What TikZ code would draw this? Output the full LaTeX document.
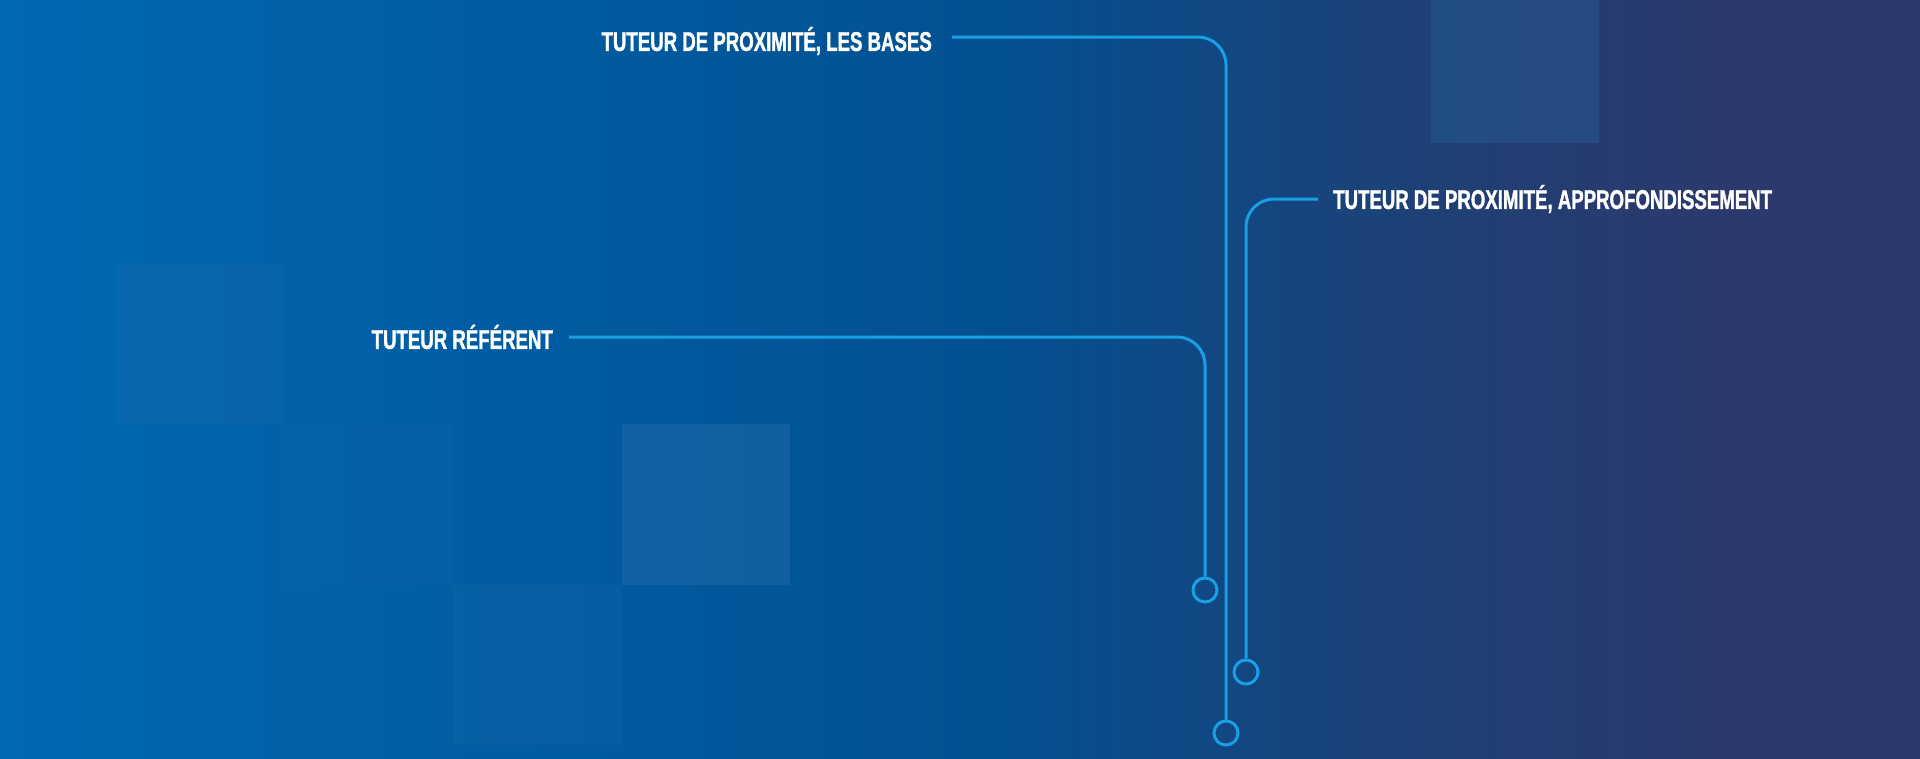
\documentclass[tikz,border=0pt]{standalone}
\usepackage{fontspec}
\newfontfamily\labelfont[FakeStretch=0.69,FakeBold=1.3]{Liberation Sans}
\usetikzlibrary{positioning}
\definecolor{bgleft}{RGB}{0,105,180}
\definecolor{bgmid}{RGB}{3,80,144}
\definecolor{bgmr}{RGB}{30,64,118}
\definecolor{bgright}{RGB}{44,57,108}
\definecolor{linecol}{RGB}{24,160,226}
\definecolor{tilecol}{RGB}{40,110,170}
\pgfdeclarehorizontalshading{bgshade}{100bp}{color(0bp)=(bgleft); color(25bp)=(bgleft); color(51bp)=(bgmid); color(62bp)=(bgmr); color(70bp)=(bgright); color(100bp)=(bgright)}

\begin{document}
\begin{tikzpicture}[x=1pt,y=-1pt,
    tag/.style={text=white, font=\labelfont\bfseries\fontsize{27}{29}\selectfont, inner sep=0pt},
    ring/.style={draw=linecol, circle, line width=3pt, minimum size=24pt, inner sep=0pt},
    link/.style={draw=linecol, line width=3pt, rounded corners=28pt},
    tile/.style={fill=tilecol, draw=none}]
            % background
            \useasboundingbox (0,0) rectangle (1920,758);
            \path[shading=bgshade] (0,0) rectangle (1920,758);
            \fill[tile, opacity=0.2] (117,264) rectangle (285,424);
            \fill[tile, opacity=0.08] (285,424) rectangle (453,585);
            \fill[tile, opacity=0.18] (453,585) rectangle (621,745);
            \fill[tile, opacity=0.4] (622,424) rectangle (790,585);
            \fill[tile, opacity=0.3] (1431,0) rectangle (1599,143);

            % labels
            \node[tag, anchor=east] (bases) at (932,41) {TUTEUR DE PROXIMITÉ, LES BASES};
            \node[tag, anchor=west] (approf) at (1333,199) {TUTEUR DE PROXIMITÉ, APPROFONDISSEMENT};
            \node[tag, anchor=east] (referent) at (553,337) {TUTEUR RÉFÉRENT};

            % end rings
            \node[ring] (ringbases) at (1226,733) {};
            \node[ring] (ringapprof) at (1246,672) {};
            \node[ring] (ringref) at (1205,590) {};

            % connectors
            \draw[link] ([xshift=20pt,yshift=4pt]bases.east) -| (ringbases.north);
            \draw[link] ([xshift=-15pt]approf.west) -| (ringapprof.north);
            \draw[link] ([xshift=16pt]referent.east) -| (ringref.north);
        \end{tikzpicture}
\end{document}
